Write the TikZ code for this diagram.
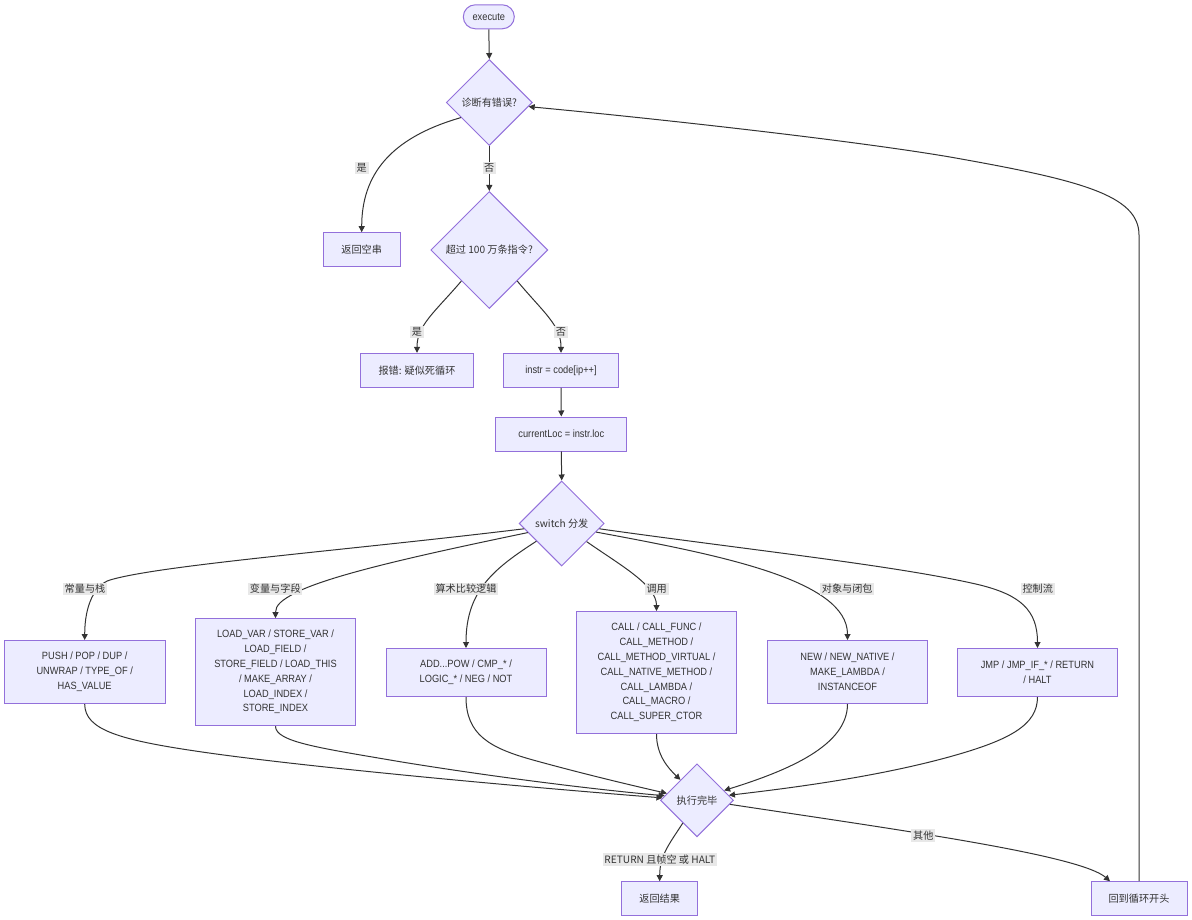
\documentclass[tikz,border=0pt]{standalone}
\usepackage{fontspec}
\setmainfont{Liberation Sans}[FakeStretch=0.88]
\newfontfamily\cjk{Noto Sans CJK SC}
\usetikzlibrary{shapes.geometric,arrows.meta}
\definecolor{mfill}{HTML}{ECECFF}
\definecolor{mborder}{HTML}{9370DB}
\definecolor{linec}{HTML}{333333}
\definecolor{textc}{HTML}{333333}
\definecolor{lblfill}{HTML}{E8E8E8}
\tikzset{
  txt/.style={text=textc, font=\fontsize{7.9pt}{11.1pt}\selectfont},
  ctxt/.style={text=textc, font=\cjk\fontsize{7.6pt}{11.1pt}\selectfont},
  box/.style={rectangle, draw=mborder, fill=mfill, line width=0.75pt, inner sep=0pt, align=center},
  dia/.style={diamond, draw=mborder, fill=mfill, line width=0.75pt, inner sep=0pt, align=center},
  lbl/.style={fill=lblfill, inner sep=1.3pt, ctxt},
  conn/.style={draw=linec, line width=0.75pt, -{Triangle[length=4.5pt,width=4.5pt]}},
}
\begin{document}
\begin{tikzpicture}[x=0.75pt,y=-0.75pt]
\useasboundingbox (0,0) rectangle (1192,920);
% nodes
\node[box, txt, rounded corners=9pt, minimum width=38.25pt, minimum height=18pt] (exec) at (488.8,16.8) {execute};
\node[dia, ctxt, minimum width=64.5pt, minimum height=64.5pt] (d1) at (489.3,102.5) {诊断有错误?};
\node[box, ctxt, minimum width=57.75pt, minimum height=25.5pt] (empty) at (361.7,249.7) {返回空串};
\node[dia, ctxt, minimum width=87.75pt, minimum height=87.75pt] (d2) at (489.3,250) {超过 100 万条指令?};
\node[box, ctxt, minimum width=84.75pt, minimum height=25.5pt] (err) at (417,370.3) {报错: 疑似死循环};
\node[box, txt, minimum width=86.25pt, minimum height=25.5pt] (instr) at (561,370.3) {instr = code[ip++]};
\node[box, txt, minimum width=98.25pt, minimum height=25.5pt] (cur) at (561.3,434) {currentLoc = instr.loc};
\node[dia, ctxt, minimum width=63.75pt, minimum height=63.75pt] (sw) at (561.7,523.5) {switch 分发};
\node[box, txt, minimum width=120.75pt, minimum height=47.25pt] (b1) at (84.7,672) {PUSH / POP / DUP /\\UNWRAP / TYPE\_OF /\\HAS\_VALUE};
\node[box, txt, minimum width=120pt, minimum height=80.25pt] (b2) at (275.5,672.2) {LOAD\_VAR / STORE\_VAR /\\LOAD\_FIELD /\\STORE\_FIELD / LOAD\_THIS\\/ MAKE\_ARRAY /\\LOAD\_INDEX /\\STORE\_INDEX};
\node[box, txt, minimum width=120pt, minimum height=36pt] (b3) at (466,672.5) {ADD...POW / CMP\_* /\\LOGIC\_* / NEG / NOT};
\node[box, txt, minimum width=120pt, minimum height=91.5pt] (b4) at (656.5,672.5) {CALL / CALL\_FUNC /\\CALL\_METHOD /\\CALL\_METHOD\_VIRTUAL /\\CALL\_NATIVE\_METHOD /\\CALL\_LAMBDA /\\CALL\_MACRO /\\CALL\_SUPER\_CTOR};
\node[box, txt, minimum width=120pt, minimum height=47.25pt] (b5) at (847.5,672) {NEW / NEW\_NATIVE /\\MAKE\_LAMBDA /\\INSTANCEOF};
\node[box, txt, minimum width=120pt, minimum height=36pt] (b6) at (1037.5,672.5) {JMP / JMP\_IF\_* / RETURN\\/ HALT};
\node[dia, ctxt, minimum width=54.75pt, minimum height=54.75pt] (done) at (697,800.3) {执行完毕};
\node[box, ctxt, minimum width=57pt, minimum height=25.5pt] (ret) at (659.7,898.7) {返回结果};
\node[box, ctxt, minimum width=72pt, minimum height=25.5pt] (loop) at (1139,898.7) {回到循环开头};
% connectors
\draw[conn] (exec.south) -- (d1.north);
\draw[conn] (d1.-152) .. controls (390,138) and (361.7,175) .. (empty.north);
\draw[conn] (d1.south) -- (d2.north);
\draw[conn] (d2.-132) .. controls (435,312) and (417,325) .. (err.north);
\draw[conn] (d2.-48) .. controls (543,312) and (561,325) .. (instr.north);
\draw[conn] (instr.south) -- (cur.north);
\draw[conn] (cur.south) -- (sw.north);
\draw[conn] (sw.-172.5) .. controls (350,550) and (160,565) .. (110,580) .. controls (95,584.5) and (84.7,605) .. (b1.north);
\draw[conn] (sw.-165.3) .. controls (420,555) and (330,575) .. (295,593) .. controls (282,600) and (275.5,605) .. (b2.north);
\draw[conn] (sw.-145.7) .. controls (495,568) and (466,590) .. (b3.north);
\draw[conn] (sw.-36) .. controls (620,565) and (656.5,585) .. (b4.north);
\draw[conn] (sw.-14.1) .. controls (720,555) and (847.5,580) .. (b5.north);
\draw[conn] (sw.-8.6) .. controls (750,550) and (900,566) .. (980,585) .. controls (1020,595) and (1037.5,610) .. (b6.north);
\draw[conn] (b1.south) .. controls (84.7,730) and (120,740) .. (200,751.7) .. controls (300,766.3) and (500,785) .. (done.176.8);
\draw[conn] (b2.south) .. controls (275.5,742) and (320,748) .. (400,761.7) .. controls (500,778) and (600,790) .. (done.172.7);
\draw[conn] (b3.south) .. controls (466,735) and (490,748) .. (533,760) .. controls (580,773) and (630,785) .. (done.167);
\draw[conn] (b4.south) .. controls (656.5,755) and (668,768) .. (done.129);
\draw[conn] (b5.south) .. controls (847.5,745) and (790,770) .. (done.20);
\draw[conn] (b6.south) .. controls (1037.5,725) and (1010,740) .. (950,756.7) .. controls (880,776) and (800,787) .. (done.9);
\draw[conn] (done.-122.6) .. controls (670,843) and (659.7,855) .. (ret.north);
\draw[conn] (done.-7.7) .. controls (900,830) and (1080,855) .. ([xshift=-21.75pt]loop.north);
\draw[conn] (loop.north) -- (1139,235) .. controls (1139,195) and (1080,180) .. (950,157) .. controls (850,140) and (650,118) .. (d1.-6);
% edge labels
\node[lbl] (l1) at (361.7,168) {是};
\node[lbl] (l2) at (489.3,168) {否};
\node[lbl] (l3) at (417,331.7) {是};
\node[lbl] (l4) at (561,331.7) {否};
\node[lbl] (l5) at (85,589) {常量与栈};
\node[lbl] (l6) at (275.3,589) {变量与字段};
\node[lbl] (l7) at (466,589) {算术比较逻辑};
\node[lbl] (l8) at (656.7,589) {调用};
\node[lbl] (l9) at (847.2,589) {对象与闭包};
\node[lbl] (l10) at (1037.7,589) {控制流};
\node[lbl] (l11) at (659.8,859.5) {RETURN 且帧空 或 HALT};
\node[lbl] (l12) at (923.3,835.3) {其他};
\end{tikzpicture}
\end{document}
